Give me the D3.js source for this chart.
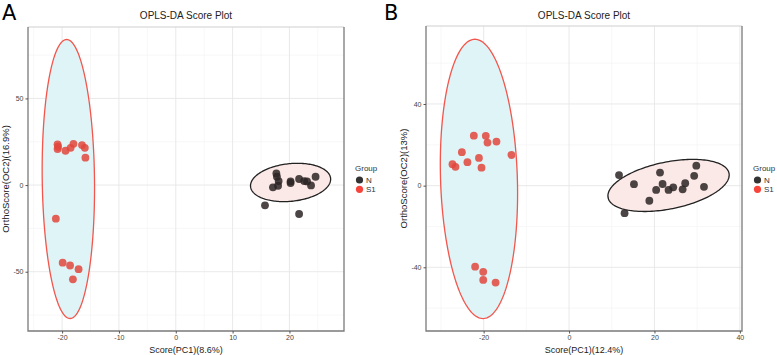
<!DOCTYPE html>
<html>
<head>
<meta charset="utf-8">
<script src="https://cdn.jsdelivr.net/npm/d3@7"></script>
<style>
	body { margin: 0; background: #fff; }
	text { font-family: "Liberation Sans", Arial, sans-serif; }
</style>
</head>
<body>
<div id="chart"></div>
<script>
// panel A scores
const a_n_x = [17.7, 17.8, 18.1, 17.1, 18.0, 20.2, 20.2, 21.7, 22.6, 23.1, 23.8, 24.6, 15.7, 21.7];
const a_n_y = [6.7, 4.8, 2.3, -1.3, -0.4, 2.1, 1.2, 3.5, 2.3, 2.1, -0.2, 4.8, -11.7, -16.7];
const a_s1_x = [-20.8, -20.7, -20.8, -19.4, -18.5, -18.0, -16.5, -16.0, -15.9, -21.1, -19.9, -18.6, -17.1, -18.1];
const a_s1_y = [23.5, 22.1, 20.8, 19.8, 21.5, 23.8, 23.1, 21.5, 15.8, -19.4, -44.8, -46.4, -48.5, -54.4];

// panel B scores
const b_n_x = [11.7, 15.2, 13.0, 18.8, 20.4, 21.3, 21.9, 23.3, 24.4, 26.6, 27.2, 29.3, 29.8, 31.6];
const b_n_y = [5.2, 0.7, -13.5, -7.4, -2.1, 6.4, 0.8, -2.1, -0.8, -1.8, 1.2, 4.8, 9.8, -0.6];
const b_s1_x = [-27.3, -26.6, -25.1, -23.8, -22.3, -21.1, -20.5, -19.5, -19.1, -17.0, -13.5, -22.0, -20.1, -20.1, -17.2];
const b_s1_y = [10.5, 9.2, 16.4, 11.5, 24.5, 13.6, 8.8, 24.4, 21.1, 21.6, 15.0, -39.7, -42.2, -46.2, -47.5];

// ellipses: [cx, cy, a, b, c, d] -> x = cx + a cos t + b sin t, y = cy + c cos t + d sin t
const a_ell_n = [20.2, 1.5, 7.05, 0, 1.9, 10.9];
const a_ell_s1 = [-18.9, 3.5, 4.6, -0.3, 0, 80.5];
const b_ell_n = [23.3, 0.1, 14.2, 0, 5.1, 11.7];
const b_ell_s1 = [-21.1, 3.3, 9.0, -0.95, 0, 68.4];

const groups = ["N", "S1"];
const point_color = ["#2b2525", "#e2463d"];
const legend_color = ["#333333", "#f8453c"];
const ell_stroke = ["#222222", "#f2564c"];
const ell_fill = ["#fbe9e7", "#dff4f7"];

const panels = [
	{
		tag: "A", x0: 28, x1: 344, y0: 27, y1: 331,
		xdom: [-26.0, 29.6], ydom: [-84.2, 91.2],
		xticks: [-20, -10, 0, 10, 20], yticks: [-50, 0, 50],
		xminor: [-25, -15, -5, 5, 15, 25], yminor: [-75, -25, 25, 75],
		xlab: "Score(PC1)(8.6%)", ylab: "OrthoScore(OC2)(16.9%)",
		n: [a_n_x, a_n_y], s1: [a_s1_x, a_s1_y], ell: [a_ell_n, a_ell_s1],
	},
	{
		tag: "B", x0: 426, x1: 742, y0: 26, y1: 331,
		xdom: [-33.5, 40.5], ydom: [-71.2, 78.2],
		xticks: [-20, 0, 20, 40], yticks: [-40, 0, 40],
		xminor: [-30, -10, 10, 30], yminor: [-60, -20, 20, 60],
		xlab: "Score(PC1)(12.4%)", ylab: "OrthoScore(OC2)(13%)",
		n: [b_n_x, b_n_y], s1: [b_s1_x, b_s1_y], ell: [b_ell_n, b_ell_s1],
	},
];

const svg = d3
	.select("#chart")
	.append("svg")
	.attr("width", 777)
	.attr("height", 355);

panels.forEach(function (p) {
	const x = d3.scaleLinear().domain(p.xdom).range([p.x0, p.x1]);
	const y = d3.scaleLinear().domain(p.ydom).range([p.y1, p.y0]);
	const g = svg.append("g");

	// panel letter
	svg.append("text")
		.attr("x", p.tag == "A" ? 2 : 384)
		.attr("y", 20)
		.style("font-size", "21px")
		.style("font-family", "'DejaVu Sans', sans-serif")
		.text(p.tag);

	// title
	g.append("text")
		.attr("x", (p.x0 + p.x1) / 2)
		.attr("y", 19)
		.attr("text-anchor", "middle")
		.style("font-size", "10px")
		.style("fill", "#222")
		.text("OPLS-DA Score Plot");

	// grid
	g.selectAll("line.minx").data(p.xminor).enter().append("line")
		.attr("x1", (d) => x(d)).attr("x2", (d) => x(d))
		.attr("y1", p.y0).attr("y2", p.y1)
		.style("stroke", "#f2f2f2").style("stroke-width", 0.6);
	g.selectAll("line.miny").data(p.yminor).enter().append("line")
		.attr("y1", (d) => y(d)).attr("y2", (d) => y(d))
		.attr("x1", p.x0).attr("x2", p.x1)
		.style("stroke", "#f2f2f2").style("stroke-width", 0.6);
	g.selectAll("line.majx").data(p.xticks).enter().append("line")
		.attr("x1", (d) => x(d)).attr("x2", (d) => x(d))
		.attr("y1", p.y0).attr("y2", p.y1)
		.style("stroke", "#e6e6e6").style("stroke-width", 0.9);
	g.selectAll("line.majy").data(p.yticks).enter().append("line")
		.attr("y1", (d) => y(d)).attr("y2", (d) => y(d))
		.attr("x1", p.x0).attr("x2", p.x1)
		.style("stroke", "#e6e6e6").style("stroke-width", 0.9);

	// ellipses
	const line = d3.line().x((d) => x(d[0])).y((d) => y(d[1])).curve(d3.curveLinearClosed);
	p.ell.forEach(function (e, i) {
		const pts = d3.range(0, 360, 2).map(function (deg) {
			const t = (deg * Math.PI) / 180;
			return [
				e[0] + e[2] * Math.cos(t) + e[3] * Math.sin(t),
				e[1] + e[4] * Math.cos(t) + e[5] * Math.sin(t),
			];
		});
		g.append("path")
			.attr("d", line(pts))
			.style("fill", ell_fill[i])
			.style("stroke", ell_stroke[i])
			.style("stroke-width", 1.3);
	});

	// points
	[p.n, p.s1].forEach(function (s, i) {
		g.selectAll("circle.g" + i)
			.data(d3.range(s[0].length))
			.enter()
			.append("circle")
			.attr("class", "g" + i)
			.attr("cx", (k) => x(s[0][k]))
			.attr("cy", (k) => y(s[1][k]))
			.attr("r", 3.9)
			.style("fill", point_color[i])
			.style("fill-opacity", 0.85);
	});

	// border
	g.append("line")
		.attr("x1", p.x0).attr("x2", p.x1).attr("y1", p.y0).attr("y2", p.y0)
		.style("stroke", "#cfcfcf").style("stroke-width", 1);
	g.append("path")
		.attr("d", `M${p.x0},${p.y0}V${p.y1}H${p.x1}V${p.y0}`)
		.style("fill", "none")
		.style("stroke", "#7a7a7a")
		.style("stroke-width", 1.3);

	// axes
	const xa = g.append("g")
		.attr("transform", `translate(0,${p.y1})`)
		.call(d3.axisBottom(x).tickValues(p.xticks).tickSize(2.5).tickPadding(1.5).tickFormat(d3.format("d")));
	const ya = g.append("g")
		.attr("transform", `translate(${p.x0},0)`)
		.call(d3.axisLeft(y).tickValues(p.yticks).tickSize(2.5).tickPadding(2).tickFormat(d3.format("d")));
	[xa, ya].forEach(function (a) {
		a.select(".domain").remove();
		a.selectAll("line").style("stroke", "#555");
		a.selectAll("text")
			.style("font-size", "7px")
			.style("fill", "#444")
			.style("font-family", "'Liberation Sans', Arial, sans-serif");
	});
	xa.selectAll("text").text((d) => (d < 0 ? "-" + Math.abs(d) : d));
	ya.selectAll("text").text((d) => (d < 0 ? "-" + Math.abs(d) : d));

	// axis titles
	g.append("text")
		.attr("x", (p.x0 + p.x1) / 2)
		.attr("y", 352.5)
		.attr("text-anchor", "middle")
		.style("font-size", "9px")
		.style("fill", "#222")
		.text(p.xlab);
	g.append("text")
		.attr("transform", `translate(${p.x0 - 19},${(p.y0 + p.y1) / 2}) rotate(-90)`)
		.attr("text-anchor", "middle")
		.style("font-size", "9.5px")
		.style("fill", "#222")
		.text(p.ylab);

	// legend
	const lx = p.x1 + 11;
	g.append("text")
		.attr("x", lx)
		.attr("y", 171)
		.style("font-size", "8px")
		.style("fill", "#333")
		.text("Group");
	groups.forEach(function (name, i) {
		g.append("circle")
			.attr("cx", lx + 4.5)
			.attr("cy", 180 + i * 9.3)
			.attr("r", 3.6)
			.style("fill", legend_color[i]);
		g.append("text")
			.attr("x", lx + 11)
			.attr("y", 183 + i * 9.3)
			.style("font-size", "8px")
			.style("fill", "#333")
			.text(name);
	});
});
</script>
</body>
</html>
